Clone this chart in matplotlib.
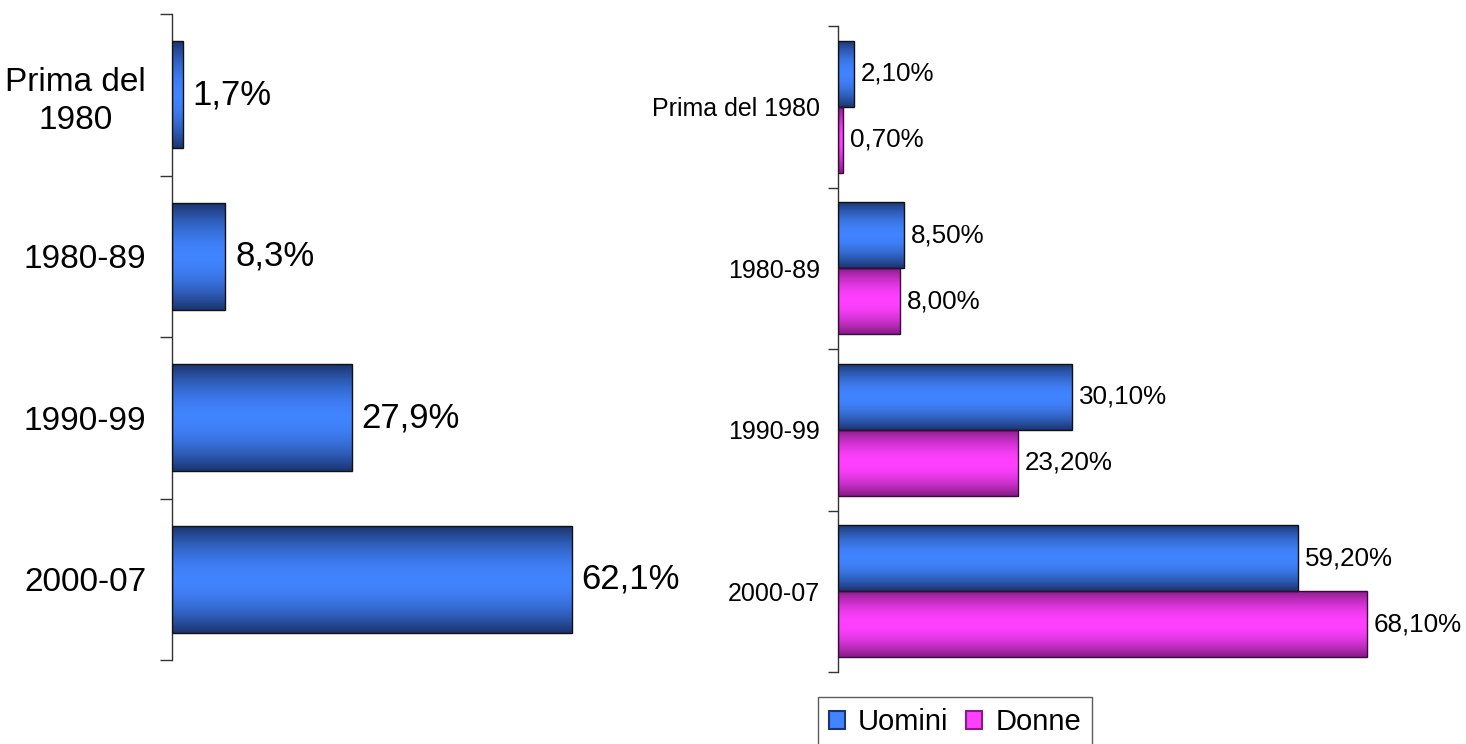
import numpy as np
import matplotlib
matplotlib.use("Agg")
import matplotlib.pyplot as plt
from matplotlib.patches import Patch
from matplotlib.colors import to_rgb

plt.rcParams['font.family'] = ['Liberation Sans', 'DejaVu Sans']

# ---- data ----
categories = ["Prima del\n1980", "1980-89", "1990-99", "2000-07"]
total_values = [1.7, 8.3, 27.9, 62.1]
total_labels = ["1,7%", "8,3%", "27,9%", "62,1%"]

categories_right = ["Prima del 1980", "1980-89", "1990-99", "2000-07"]
uomini = [2.1, 8.5, 30.1, 59.2]
donne = [0.7, 8.0, 23.2, 68.1]
uomini_labels = ["2,10%", "8,50%", "30,10%", "59,20%"]
donne_labels = ["0,70%", "8,00%", "23,20%", "68,10%"]
legend_names = ["Uomini", "Donne"]

BLUE_DARK, BLUE_LIGHT = "#1c3570", "#4184ff"
PINK_DARK, PINK_LIGHT = "#861c86", "#ff40ff"


def gradient_fill(ax, bars, dark, light):
    d = np.array(to_rgb(dark))
    l = np.array(to_rgb(light))
    n = 64
    t = np.abs(np.linspace(-1, 1, n))
    w = t ** 1.8
    col = l[None, :] * (1 - w[:, None]) + d[None, :] * w[:, None]
    img = col[:, None, :]
    for b in bars:
        x0, y0 = b.get_x(), b.get_y()
        wd, ht = b.get_width(), b.get_height()
        im = ax.imshow(img, extent=[x0, x0 + wd, y0 + ht, y0], aspect='auto',
                       interpolation='bilinear', zorder=2)
        im.set_clip_path(b)
        b.set_facecolor('none')
        b.set_zorder(3)


fig = plt.figure(figsize=(14.66, 7.44), dpi=100)
W, H = 1466, 744

def style_axis(ax, tick_len):
    for s in ['top', 'right', 'bottom']:
        ax.spines[s].set_visible(False)
    ax.spines['left'].set_color('#333333')
    ax.spines['left'].set_linewidth(1.0)
    ax.set_xticks([])
    ax.set_ylim(3.5, -0.5)
    ax.set_yticks(np.arange(-0.5, 3.6, 1.0), minor=True)
    ax.tick_params(axis='y', which='minor', length=tick_len, color='#333333', width=1.0)
    ax.tick_params(axis='y', which='major', length=0)

# ---- left chart ----
axL = fig.add_axes([172 / W, (H - 660) / H, 515 / W, 646 / H])
y = np.arange(len(categories))
barsL = axL.barh(y, total_values, height=0.66, edgecolor='#111111', linewidth=1.0)
axL.set_xlim(0, 80)
style_axis(axL, 8.6)
gradient_fill(axL, barsL, BLUE_DARK, BLUE_LIGHT)
axL.set_xlim(0, 80)
axL.set_ylim(3.5, -0.5)
axL.set_yticks(y)
axL.set_yticklabels(categories, fontsize=24)
for lab in axL.get_yticklabels():
    lab.set_multialignment('center')
    lab.set_linespacing(1.3)
axL.tick_params(axis='y', which='major', pad=18.7)
for b, txt in zip(barsL, total_labels):
    axL.annotate(txt, (b.get_width(), b.get_y() + b.get_height() / 2),
                 xytext=(7, 0), textcoords='offset points',
                 ha='left', va='center', fontsize=25)

# ---- right chart ----
axR = fig.add_axes([838 / W, (H - 672) / H, 621 / W, 646 / H])
hb = 0.41
barsU = axR.barh(y - hb / 2, uomini, height=hb, edgecolor='#111111', linewidth=1.0)
barsD = axR.barh(y + hb / 2, donne, height=hb, edgecolor='#3a0a3a', linewidth=1.0)
axR.set_xlim(0, 80)
style_axis(axR, 7.2)
gradient_fill(axR, barsU, BLUE_DARK, BLUE_LIGHT)
gradient_fill(axR, barsD, PINK_DARK, PINK_LIGHT)
axR.set_xlim(0, 80)
axR.set_ylim(3.5, -0.5)
axR.set_yticks(y)
axR.set_yticklabels(categories_right, fontsize=18)
axR.tick_params(axis='y', which='major', pad=13)
for bars, labels in ((barsU, uomini_labels), (barsD, donne_labels)):
    for b, txt in zip(bars, labels):
        axR.annotate(txt, (b.get_width(), b.get_y() + b.get_height() / 2),
                     xytext=(5, 0), textcoords='offset points',
                     ha='left', va='center', fontsize=18.7)

handles = [Patch(facecolor=BLUE_LIGHT, edgecolor=BLUE_DARK, linewidth=1.5),
           Patch(facecolor=PINK_LIGHT, edgecolor=PINK_DARK, linewidth=1.5)]
leg = fig.legend(handles, legend_names, loc='upper left',
                 bbox_to_anchor=(818 / W, 1 - 697 / H), ncol=2, fontsize=21,
                 frameon=True, fancybox=False, edgecolor='#333333',
                 handlelength=0.55, handleheight=0.55, handletextpad=0.45,
                 columnspacing=0.6, borderpad=0.38, borderaxespad=0)
leg.get_frame().set_linewidth(1.0)

fig.savefig("out.png", dpi=100, facecolor='white')
